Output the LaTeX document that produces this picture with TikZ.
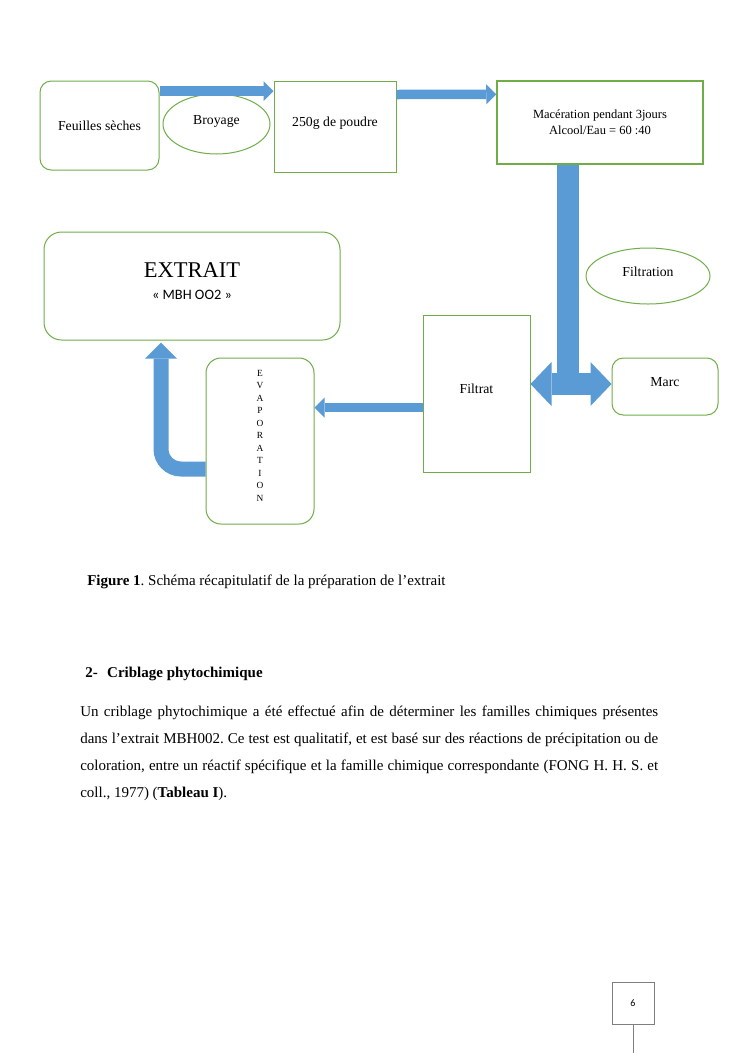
\documentclass[tikz,border=0pt]{standalone}
\usepackage{fontspec}
\setmainfont{Liberation Serif}
\newfontfamily\calibri{Carlito}
\usepackage{xcolor}
\usepackage{tikz}
\usetikzlibrary{arrows.meta,positioning,shapes.geometric,calc}
\definecolor{boxgreen}{HTML}{70AD47}
\definecolor{pipeblue}{HTML}{5B9BD5}
\definecolor{pagegray}{HTML}{7F7F7F}
\frenchspacing
\tikzset{
  greenbox/.style={draw=boxgreen,fill=white,line width=0.8pt,inner sep=2pt,
                   font=\fontsize{11}{13}\selectfont},
  roundbox/.style={greenbox,rounded corners=9pt},
  oval/.style={ellipse,draw=boxgreen,fill=white,line width=0.8pt,inner sep=0pt,
               font=\fontsize{11}{13}\selectfont},
  lifted/.style={text depth=7pt},
  thinpipe/.style={draw=pipeblue,line width=7.6pt,
                   -{Triangle[length=8pt,width=16pt,line width=0pt]}},
  widepipe/.style={draw=pipeblue,line width=17.6pt,
                   >={Triangle[length=16.8pt,width=35.2pt,line width=0pt]}},
  bentpipe/.style={draw=pipeblue,line width=12pt,rounded corners=16pt,
                   -{Triangle[length=12.8pt,width=25.6pt,line width=0pt]}},
  body/.style={inner sep=0pt,font=\fontsize{12}{21.6}\selectfont},
}

\begin{document}
\begin{tikzpicture}[x=0.8pt,y=-0.8pt]
  \useasboundingbox[fill=white] (0,0) rectangle (745,1053);
  % process boxes
  \node[roundbox,minimum width=95.2pt,minimum height=71.2pt]
    (feuilles) at (99.5,125.5) {Feuilles sèches};
  \node[oval,minimum width=85.6pt,minimum height=48pt,lifted]
    (broyage) at (216.5,124) {Broyage};
  \node[greenbox,minimum width=97.6pt,minimum height=72.8pt,lifted]
    (poudre) at (335,126.5) {250g de poudre};
  \node[greenbox,minimum width=164.8pt,minimum height=66.4pt,line width=1.2pt,
        align=center,font=\fontsize{10}{12.8}\selectfont]
    (mac) at (600,122.5) {Macération pendant 3jours\\Alcool/Eau = 60 :40};
  \node[oval,minimum width=99.2pt,minimum height=44.8pt,lifted]
    (filtration) at (648,276) {Filtration};
  \node[roundbox,minimum width=84.8pt,minimum height=45.6pt,lifted]
    (marc) at (665,386.5) {Marc};
  \node[greenbox,minimum width=85.6pt,minimum height=125.6pt,lifted]
    (filtrat) at (476.5,393.5) {Filtrat};
  \node[roundbox,rounded corners=12pt,minimum width=86.4pt,minimum height=132.8pt,
        align=center,font=\fontsize{7.5}{10}\selectfont]
    (evap) at (260,441)
    {E\\V\\A\\P\\O\\R\\A\\T\\I\\O\\N\rule[-8.8pt]{0pt}{8.8pt}};
  \node[roundbox,rounded corners=14pt,minimum width=236.8pt,minimum height=86.4pt,
        align=center,font=\fontsize{10}{17.6}\selectfont]
    (extrait) at (192,286)
    {{\fontsize{18}{18}\selectfont EXTRAIT}\\
     {\calibri\fontsize{11.5}{12}\selectfont « MBH OO2 »}\rule[-8pt]{0pt}{8pt}};
  % block arrows
  \coordinate (jn) at (568,384);
  \coordinate (ff) at ($(filtrat.west)+(0,14)$);
  \coordinate (ev) at ($(evap.west)+(0,28)$);
  \coordinate (up) at ($(extrait.south)+(-31,2)$);
  \draw[thinpipe] ($(feuilles.north east)+(0,10.5)$) -- ($(poudre.north west)+(0,10.5)$);
  \draw[thinpipe] ($(poudre.north east)+(0,14)$) -- ($(mac.north west)+(0,14)$);
  \draw[widepipe] (mac.south -| jn) -- (jn);
  \draw[widepipe,<->] (filtrat.east |- jn) -- (marc.west |- jn);
  \draw[thinpipe] (ff) -- (ff -| evap.east);
  \draw[bentpipe] (ev) -| (up);
  % caption and text
  \node[body,anchor=base west] (caption) at (87,585)
    {\textbf{Figure 1}. Schéma récapitulatif de la préparation de l’extrait};
  \node[body,anchor=base west] (heading) at (85,677)
    {\textbf{2-\hspace{7.6pt}Criblage phytochimique}};
  \node[body,anchor=north west,text width=462.4pt,align=justify] (para) at (80,706)
    {\hyphenpenalty=10000 Un criblage phytochimique a été effectué afin de déterminer
     les familles chimiques présentes\linebreak dans l’extrait MBH002. Ce test est
     qualitatif, et est basé sur des réactions de précipitation ou de\linebreak
     coloration, entre un réactif spécifique et la famille chimique correspondante
     (FONG H. H. S. et\linebreak coll., 1977) (\textbf{Tableau I}).};
  % page number
  \node[draw=pagegray,line width=0.6pt,minimum size=33.6pt,inner sep=0pt,
        font=\calibri\fontsize{8}{9}\selectfont] (pagenum) at (633,1003) {6};
  \coordinate (pagefoot) at (633,1053);
  \draw[pagegray,line width=0.6pt] (pagenum.south) -- (pagefoot);
\end{tikzpicture}
\end{document}
